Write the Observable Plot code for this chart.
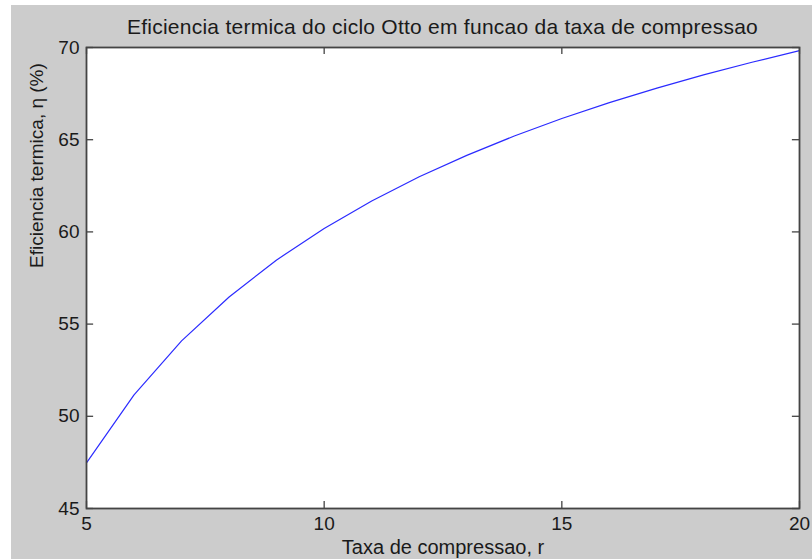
<!DOCTYPE html>
<html>
<head>
<meta charset="utf-8">
<script src="https://cdn.jsdelivr.net/npm/d3@7"></script>
<script src="https://cdn.jsdelivr.net/npm/@observablehq/plot@0.6"></script>
<style>
  html, body { margin: 0; padding: 0; background: #ffffff; }
  #wrap { position: relative; width: 812px; height: 559px; overflow: hidden; background: #ffffff; }
  #bg { position: absolute; left: 11px; top: 5px; right: 0; bottom: 0; background: #cccccc; }
  #title { position: absolute; left: 86px; width: 713px; top: 16px; line-height: 21px; text-align: center;
           font-family: "Liberation Sans", Arial, sans-serif; font-size: 21px; letter-spacing: 0.25px; color: #1a1a1a; white-space: nowrap; }
  #chart { position: absolute; left: 0; top: 0; }
</style>
</head>
<body>
<div id="wrap">
  <div id="bg"></div>
  <div id="title">Eficiencia termica do ciclo Otto em funcao da taxa de compressao</div>
  <div id="chart"></div>
</div>
<script>
const compressionRatio = [5, 6, 7, 8, 9, 10, 11, 12, 13, 14, 15, 16, 17, 18, 19, 20];
const efficiency = [47.47, 51.16, 54.09, 56.47, 58.48, 60.19, 61.68, 62.99, 64.15, 65.20, 66.15, 67.01, 67.80, 68.53, 69.20, 69.83];
const xTicks = [5, 10, 15, 20];
const yTicks = [45, 50, 55, 60, 65, 70];
const xLabel = "Taxa de compressao, r";
const yLabel = "Eficiencia termica, \u03b7 (%)";

const data = compressionRatio.map((r, i) => ({r, eta: efficiency[i]}));
const tickColor = "#444444";

const plot = Plot.plot({
  width: 812,
  height: 559,
  marginLeft: 86,
  marginRight: 13,
  marginTop: 47,
  marginBottom: 51,
  style: {background: "transparent", fontFamily: "Liberation Sans, Arial, sans-serif", fontSize: "19px", color: "#1a1a1a"},
  x: {domain: [5, 20], ticks: xTicks},
  y: {domain: [45, 70], ticks: yTicks},
  marks: [
    Plot.frame({fill: "white"}),
    Plot.line(data, {x: "r", y: "eta", stroke: "#2b2bff", strokeWidth: 1.2}),
    Plot.ruleX(xTicks, {x: d => d, y1: 45, y2: 45.38, stroke: tickColor, strokeWidth: 1.3}),
    Plot.ruleX(xTicks, {x: d => d, y1: 69.62, y2: 70, stroke: tickColor, strokeWidth: 1.3}),
    Plot.ruleY(yTicks, {y: d => d, x1: 5, x2: 5.15, stroke: tickColor, strokeWidth: 1.3}),
    Plot.ruleY(yTicks, {y: d => d, x1: 19.85, x2: 20, stroke: tickColor, strokeWidth: 1.3}),
    Plot.frame({stroke: tickColor, strokeWidth: 1.8}),
    Plot.axisX(xTicks, {anchor: "bottom", tickSize: 0, tickPadding: 8, label: null, fontSize: 19}),
    Plot.axisY(yTicks, {anchor: "left", tickSize: 0, tickPadding: 7, label: null, fontSize: 19}),
    Plot.text([xLabel], {text: d => d, frameAnchor: "bottom", lineAnchor: "middle", dy: 39, fontSize: 20, letterSpacing: "0.75px", fill: "#1a1a1a"}),
    Plot.text([yLabel], {text: d => d, frameAnchor: "left", lineAnchor: "middle", rotate: -90, dx: -50, dy: -10, fontSize: 19, letterSpacing: "0.6px", fill: "#1a1a1a"})
  ]
});
document.getElementById("chart").appendChild(plot);
</script>
</body>
</html>
